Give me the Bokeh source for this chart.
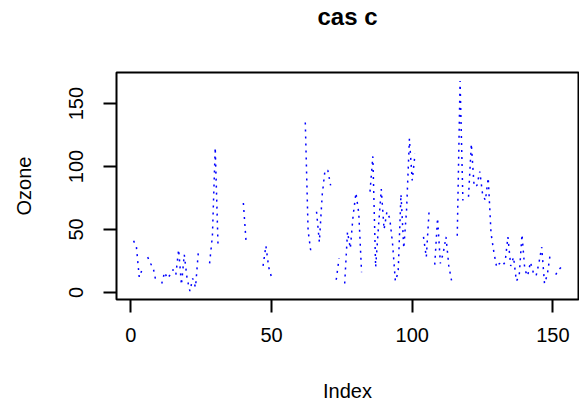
import numpy as np
from bokeh.plotting import figure
from bokeh.models import FixedTicker, Range1d, Title
from bokeh.embed import file_html
from bokeh.resources import INLINE

# airquality$Ozone (NA -> nan)
ozone = [41, 36, 12, 18, None, 28, 23, 19, 8, None,
         7, 16, 11, 14, 18, 14, 34, 6, 30, 11,
         1, 11, 4, 32, None, None, None, 23, 45, 115,
         37, None, None, None, None, None, None, 29, None, 71,
         39, None, None, 23, None, None, 21, 37, 20, 12,
         13, None, None, None, None, None, None, None, None, None,
         None, 135, 49, 32, None, 64, 40, 77, 97, 97,
         85, None, 10, 27, None, 7, 48, 35, 61, 79,
         63, 16, None, None, 80, 108, 20, 52, 82, 50,
         64, 59, 39, 9, 16, 78, 35, 66, 122, 89,
         110, None, None, 44, 28, 65, None, 22, 59, 23,
         31, 44, 21, 9, None, 45, 168, 73, None, 76,
         118, 84, 85, 96, 78, 73, 91, 47, 32, 20,
         23, 21, 24, 44, 21, 28, 9, 13, 46, 18,
         13, 24, 16, 13, 23, 36, 7, 14, 30, None,
         14, 18, 20]
index = list(range(1, len(ozone) + 1))
x_ticks = [0, 50, 100, 150]
y_ticks = [0, 50, 100, 150]
title_text = "cas c"

y = np.array([np.nan if v is None else v for v in ozone], dtype=float)
x = np.array(index, dtype=float)

xmin, xmax = 1, len(ozone)
ymin, ymax = np.nanmin(y), np.nanmax(y)
xpad = 0.04 * (xmax - xmin)
ypad = 0.04 * (ymax - ymin)

FONT = "Liberation Sans"

p = figure(width=579, height=404, output_backend="svg", toolbar_location=None,
           title=None,
           x_range=Range1d(xmin - xpad, xmax + xpad),
           y_range=Range1d(ymin - ypad, ymax + ypad),
           min_border_left=116, min_border_right=1,
           min_border_top=71, min_border_bottom=103)

p.line(x, y, line_color="blue", line_width=1.5, line_dash="2 5")

p.grid.visible = False
p.outline_line_color = "black"
p.outline_line_width = 2
p.background_fill_color = "white"
p.border_fill_color = "white"

# spacer (innermost) then the real title (outer), to lift the title up
p.add_layout(Title(text=" ", text_font_size="1px", standoff=40), "above")
p.add_layout(Title(text=title_text, align="center", vertical_align="bottom",
                   text_font=FONT, text_font_size="24px", text_font_style="bold",
                   text_color="black", standoff=0), "above")

for ax in (p.xaxis[0], p.yaxis[0]):
    ax.axis_line_color = None
    ax.major_tick_line_color = "black"
    ax.major_tick_line_width = 2
    ax.major_tick_out = 13
    ax.major_tick_in = 0
    ax.minor_tick_line_color = None
    ax.major_label_text_font = FONT
    ax.major_label_text_font_size = "20px"
    ax.major_label_text_color = "black"
    ax.axis_label_text_font = FONT
    ax.axis_label_text_font_size = "20px"
    ax.axis_label_text_font_style = "normal"
    ax.axis_label_text_color = "black"

p.xaxis.ticker = FixedTicker(ticks=x_ticks)
p.yaxis.ticker = FixedTicker(ticks=y_ticks)
p.xaxis.axis_label = "Index"
p.yaxis.axis_label = "Ozone"
p.xaxis.major_label_standoff = 15
p.xaxis.axis_label_standoff = 35
p.yaxis.major_label_orientation = "vertical"
p.yaxis.major_label_standoff = 20
p.yaxis.axis_label_standoff = 32

open("out.html", "w").write(file_html(p, INLINE))
